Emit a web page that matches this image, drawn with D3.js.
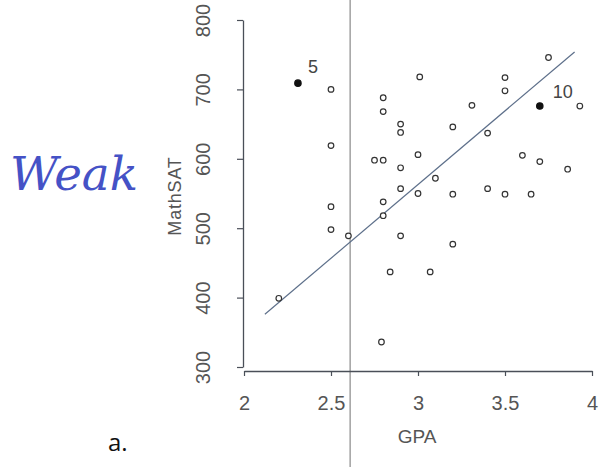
<!DOCTYPE html>
<html>
<head>
<meta charset="utf-8">
<script src="https://cdn.jsdelivr.net/npm/d3@7"></script>
<style>
  html, body { margin: 0; padding: 0; background: #fff; }
  svg { display: block; }
</style>
</head>
<body>
<svg id="chart" width="601" height="467"></svg>
<script>
// ---- data ----
const gpa = [2.31, 2.50, 2.50, 2.75, 2.80, 3.75, 3.01, 3.50, 3.50, 2.80, 2.80, 3.31, 3.70, 3.93,
             2.90, 2.90, 3.20, 3.40, 3.60, 3.70, 3.86, 3.00, 2.90, 3.10, 2.90, 3.00, 3.20, 3.40,
             3.50, 3.65, 2.80, 2.80, 2.60, 2.90, 3.20, 2.84, 3.07, 2.79, 2.50, 2.50, 2.20];
const mathSAT = [709, 700, 619, 598, 598, 746, 718, 717, 698, 688, 668, 677, 676, 676,
                 650, 638, 646, 637, 605, 596, 585, 606, 587, 572, 557, 550, 549, 557,
                 549, 549, 538, 518, 489, 489, 477, 437, 437, 336, 531, 498, 399];
const highlighted = [0, 12];            // indexes of filled points
const pointLabels = ["5", "10"];        // labels of the filled points
const fitX = [2.12, 3.90];              // regression line endpoints
const fitY = [376, 754];
const meanGPA = 2.61;                   // vertical reference line
const xTicks = [2, 2.5, 3, 3.5, 4];
const yTicks = [300, 400, 500, 600, 700, 800];

const svg = d3.select("#chart");
const x = d3.scaleLinear().domain([2, 4]).range([244, 592]);
const y = d3.scaleLinear().domain([300, 800]).range([367, 20]);
const axisColor = "#4a4f58";
const textColor = "#555555";
const font = "'Liberation Sans', Arial, sans-serif";

// vertical reference line (full height)
svg.append("line")
  .attr("x1", x(meanGPA)).attr("x2", x(meanGPA))
  .attr("y1", 0).attr("y2", 467)
  .attr("stroke", "#9a9a9a").attr("stroke-width", 1.4);

// y axis
const yAxis = d3.axisLeft(y).tickValues(yTicks).tickSize(6).tickSizeOuter(0).tickFormat(d3.format("d"));
const gy = svg.append("g").attr("transform", "translate(243,0)").call(yAxis);
gy.select(".domain").attr("stroke", axisColor).attr("stroke-width", 1.3);
gy.selectAll(".tick line").attr("stroke", axisColor).attr("stroke-width", 1.2);
gy.selectAll(".tick text")
  .attr("transform", `translate(-40,0) rotate(-90)`)
  .attr("x", 0).attr("y", 0).attr("dy", "0.35em")
  .attr("text-anchor", "middle")
  .attr("font-family", font).attr("font-size", 20)
  .attr("fill", textColor);

// x axis
const xAxis = d3.axisBottom(x).tickValues(xTicks).tickSize(5).tickSizeOuter(0).tickFormat(d => d);
const gx = svg.append("g").attr("transform", "translate(0,371)").call(xAxis);
gx.select(".domain").attr("stroke", axisColor).attr("stroke-width", 1.3);
gx.selectAll(".tick line").attr("stroke", axisColor).attr("stroke-width", 1.2);
gx.selectAll(".tick text")
  .attr("y", 32).attr("dy", "0.35em")
  .attr("font-family", font).attr("font-size", 20)
  .attr("fill", textColor);

// axis titles
svg.append("text")
  .attr("x", 417).attr("y", 436).attr("dy", "0.35em")
  .attr("text-anchor", "middle")
  .attr("font-family", font).attr("font-size", 19)
  .attr("fill", textColor)
  .text("GPA");
svg.append("text")
  .attr("transform", "translate(175,196) rotate(-90)")
  .attr("dy", "0.35em")
  .attr("text-anchor", "middle")
  .attr("font-family", font).attr("font-size", 18)
  .attr("letter-spacing", 0.8)
  .attr("fill", textColor)
  .text("MathSAT");

// regression line
svg.append("line")
  .attr("x1", x(fitX[0])).attr("y1", y(fitY[0]))
  .attr("x2", x(fitX[1])).attr("y2", y(fitY[1]))
  .attr("stroke", "#5d6f8a").attr("stroke-width", 1.2);

// points
const pts = gpa.map((g, i) => ({ g, s: mathSAT[i], i, hl: highlighted.includes(i) }));
svg.append("g").selectAll("circle")
  .data(pts)
  .join("circle")
  .attr("cx", d => x(d.g))
  .attr("cy", d => y(d.s))
  .attr("r", d => d.hl ? 3.2 : 2.8)
  .attr("fill", d => d.hl ? "#111" : "#fff")
  .attr("stroke", d => d.hl ? "#111" : "#333")
  .attr("stroke-width", 1.2);

// point labels
highlighted.forEach((idx, k) => {
  const dx = k === 0 ? 15 : 23;
  const dyy = k === 0 ? -16 : -14;
  svg.append("text")
    .attr("x", x(gpa[idx]) + dx).attr("y", y(mathSAT[idx]) + dyy)
    .attr("dy", "0.35em")
    .attr("text-anchor", "middle")
    .attr("font-family", font).attr("font-size", 18)
    .attr("fill", "#444")
    .text(pointLabels[k]);
});

// handwritten annotation
svg.append("text")
  .attr("x", 10).attr("y", 190)
  .attr("font-family", "'DejaVu Serif', serif")
  .attr("font-style", "italic")
  .attr("font-size", 46)
  .attr("fill", "#4552c6")
  .attr("textLength", 128)
  .attr("lengthAdjust", "spacingAndGlyphs")
  .text("Weak");

// panel label
svg.append("text")
  .attr("x", 108).attr("y", 451)
  .attr("font-family", "'Open Sans', sans-serif")
  .attr("font-size", 24)
  .attr("fill", "#111")
  .text("a.");
</script>
</body>
</html>
